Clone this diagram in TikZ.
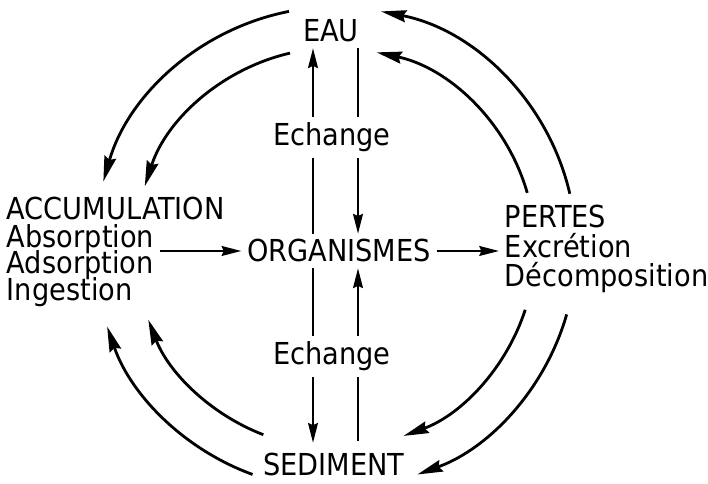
\documentclass[tikz,border=0pt]{standalone}
\usepackage{fontspec}
\setmainfont{DejaVu Sans Condensed}
\usetikzlibrary{arrows.meta}
\tikzset{
  txt/.style={inner xsep=4pt, inner ysep=1.5pt, font=\fontsize{21.5}{26}\selectfont},
  trait/.style={line width=1.5pt},
  flux/.style={line width=1.5pt, -{Stealth[length=14pt,width=7pt,inset=1.5pt]}},
  cycle/.style={line width=2pt, -{Stealth[length=18pt,width=8.5pt,inset=2pt]}}
}

\begin{document}
\begin{tikzpicture}[x=0.025cm, y=0.025cm]
  \def\Ro{241}
  \def\Ri{200}
  \useasboundingbox (0,0) rectangle (708,484);
  \coordinate (c) at (335,236);
  \coordinate (xl) at (313,0);
  \coordinate (xr) at (358,0);

  \node[txt, anchor=base, inner ysep=4pt] (eau) at (331,442) {EAU};
  \node[txt, anchor=base, inner ysep=4pt] (ech1) at (332,338) {Echange};
  \node[txt, anchor=base, inner ysep=4pt] (org) at (339,222) {ORGANISMES};
  \node[txt, anchor=base, inner ysep=4pt] (ech2) at (332,119) {Echange};
  \node[txt, anchor=base] (sed) at (334,8) {SEDIMENT};

  \node[txt, anchor=base west] (acc) at (1,264) {ACCUMULATION};
  \node[txt, anchor=base west] (abs) at (1,236) {Absorption};
  \node[txt, anchor=base west] (ads) at (1,210) {Adsorption};
  \node[txt, anchor=base west] (ing) at (1,183) {Ingestion};

  \node[txt, anchor=base west] (pertes) at (499,256) {PERTES};
  \node[txt, anchor=base west] (excr) at (499,226) {Excrétion};
  \node[txt, anchor=base west] (decomp) at (499,197) {Décomposition};

%echanges:
  \draw[trait] (org.north -| xl) -- (ech1.south -| xl);
  \draw[flux] (ech1.north -| xl) -- (eau.south -| xl);
  \draw[trait] (eau.south -| xr) -- (ech1.north -| xr);
  \draw[flux] (ech1.south -| xr) -- (org.north -| xr);
  \draw[trait] (org.south -| xl) -- (ech2.north -| xl);
  \draw[flux, shorten >=6pt] (ech2.south -| xl) -- (sed.north -| xl);
  \draw[trait, shorten <=7pt] (sed.north -| xr) -- (ech2.south -| xr);
  \draw[flux] (ech2.north -| xr) -- (org.south -| xr);

  \draw[flux] (abs.east |- org.west) -- (org.west);
  \draw[flux] (org.east) -- (org.east -| excr.west);

%cycle:
  \draw[cycle] ([shift={(101:\Ro)}]c) arc[start angle=101, end angle=164, radius=\Ro];
  \draw[cycle] ([shift={(103:\Ri)}]c) arc[start angle=103, end angle=162, radius=\Ri];
  \draw[cycle] ([shift={(13:\Ro)}]c) arc[start angle=13, end angle=79, radius=\Ro];
  \draw[cycle] ([shift={(16:\Ri)}]c) arc[start angle=16, end angle=78, radius=\Ri];
  \draw[cycle] ([shift={(-16:\Ro)}]c) arc[start angle=-16, end angle=-70, radius=\Ro];
  \draw[cycle] ([shift={(-18:\Ri)}]c) arc[start angle=-18, end angle=-70, radius=\Ri];
  \draw[cycle] ([shift={(250:\Ro)}]c) arc[start angle=250, end angle=199, radius=\Ro];
  \draw[cycle] ([shift={(249:\Ri)}]c) arc[start angle=249, end angle=201, radius=\Ri];
\end{tikzpicture}
\end{document}
